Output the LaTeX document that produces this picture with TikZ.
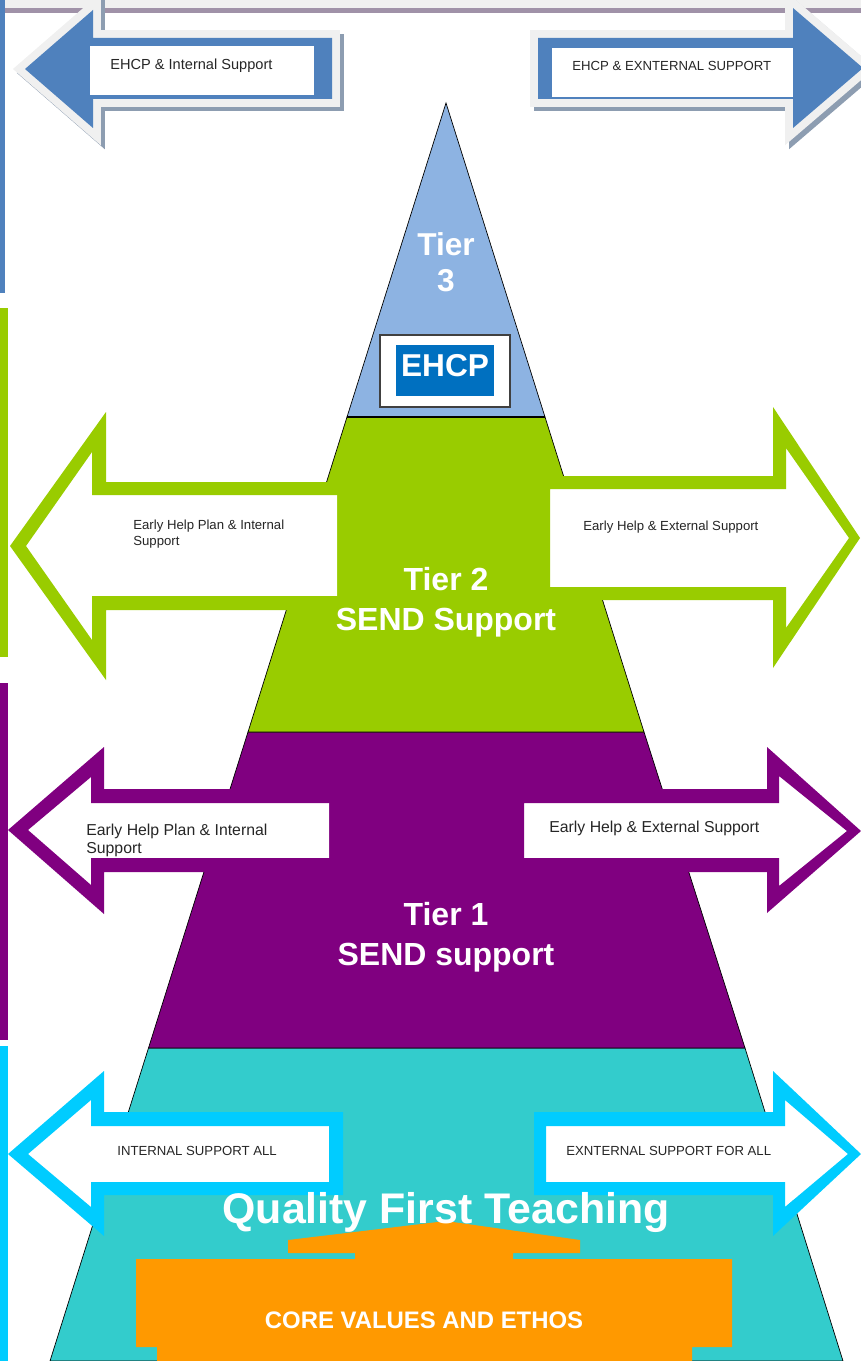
\documentclass[tikz,border=0pt]{standalone}
\usepackage{fontspec}
\setmainfont{Liberation Sans}
\usetikzlibrary{positioning}

\definecolor{tierthree}{HTML}{8DB3E2}
\definecolor{tiertwo}{HTML}{99CC00}
\definecolor{tierone}{HTML}{800080}
\definecolor{qft}{HTML}{33CCCC}
\definecolor{qftarrow}{HTML}{00CCFF}
\definecolor{ethos}{HTML}{FF9900}
\definecolor{ehcpblue}{HTML}{0070C0}
\definecolor{arrowblue}{HTML}{4F81BD}
\definecolor{arrowedge}{HTML}{F0F0F0}
\definecolor{arrowshade}{HTML}{8D9DB1}
\definecolor{topline}{HTML}{A092A8}

\tikzset{
  small label/.style={anchor=west,inner sep=0pt,align=left,text=black!85,
    font=\fontsize{7.5}{9}\selectfont},
  mid label/.style={small label,font=\fontsize{9}{10.2}\selectfont},
  tier label/.style={inner sep=0pt,align=center,text=white,
    font=\bfseries\fontsize{18.2}{22.7}\selectfont},
  ring/.style={even odd rule},
}

\begin{document}
\begin{tikzpicture}[x=0.02cm,y=-0.02cm]
\useasboundingbox (0,0) rectangle (861,1361);

% top rule and side bars
\fill[arrowedge] (0,0) rectangle (861,8);
\fill[topline] (0,8) rectangle (861,13);
\fill[arrowblue] (0,0) rectangle (5,293);
\fill[tiertwo] (0,308) rectangle (8,657);
\fill[tierone] (0,683) rectangle (8,1040);
\fill[qftarrow] (0,1046) rectangle (8,1361);

% pyramid
\filldraw[fill=qft,draw=black,thin] (148.5,1048) -- (745,1048) -- (843,1361) -- (50,1361) -- cycle;
\filldraw[fill=tierone,draw=black,thin] (248,732) -- (644,732) -- (745,1048) -- (148.5,1048) -- cycle;
\filldraw[fill=tiertwo,draw=black,thin] (347,417) -- (545,417) -- (644,732) -- (248,732) -- cycle;
\filldraw[fill=tierthree,draw=black,thin] (446,103) -- (545,417) -- (347,417) -- cycle;
\draw[black,line width=1.2pt] (347,417) -- (545,417);

% EHCP box
\filldraw[fill=white,draw=black!75,line width=0.8pt] (380,335) rectangle (510,407);
\fill[ehcpblue] (396,345) rectangle (494,396);
\node[tier label,font=\bfseries\fontsize{18}{20}\selectfont] (ehcp) at (445,366) {EHCP};

% tier captions
\node[tier label,font=\bfseries\fontsize{18}{20.4}\selectfont] (tier3) at (446,262) {Tier\\3};
\node[tier label] (tier2) at (446,602) {Tier 2\\SEND Support};
\node[tier label] (tier1) at (446,937) {Tier 1\\SEND support};

% core values block
\fill[ethos] (136,1259) -- (355,1259) -- (355,1253) -- (288,1253) -- (288,1240)
  -- (446,1221) -- (580,1240) -- (580,1253) -- (513,1253) -- (513,1259)
  -- (732,1259) -- (732,1347) -- (692,1347) -- (692,1361) -- (157,1361)
  -- (157,1347) -- (136,1347) -- cycle;
\node[tier label,font=\bfseries\fontsize{13.6}{16}\selectfont] (ethos) at (424,1320) {CORE VALUES AND ETHOS};

% blue arrows at the top
\fill[arrowshade,shift={(4,4)}] (25,69) -- (93,10) -- (93,38) -- (332,38) -- (332,99) -- (93,99) -- (93,128) -- cycle;
\draw[arrowshade,line width=9pt,shift={(4,4)}] (25,69) -- (93,10) -- (93,38) -- (332,38) -- (332,99) -- (93,99) -- (93,128) -- cycle;
\draw[arrowedge,line width=9pt] (25,69) -- (93,10) -- (93,38) -- (332,38) -- (332,99) -- (93,99) -- (93,128) -- cycle;
\fill[arrowblue] (25,69) -- (93,10) -- (93,38) -- (332,38) -- (332,99) -- (93,99) -- (93,128) -- cycle;
\fill[white] (90,46) rectangle (314,95);
\node[small label,font=\fontsize{8.3}{10}\selectfont] (ehcpint) at (110,66) {EHCP \& Internal Support};

\fill[arrowshade,shift={(4,4)}] (538,38) -- (793,38) -- (793,8) -- (863,68) -- (793,128) -- (793,99) -- (538,99) -- cycle;
\draw[arrowshade,line width=9pt,shift={(4,4)}] (538,38) -- (793,38) -- (793,8) -- (863,68) -- (793,128) -- (793,99) -- (538,99) -- cycle;
\draw[arrowedge,line width=9pt] (538,38) -- (793,38) -- (793,8) -- (863,68) -- (793,128) -- (793,99) -- (538,99) -- cycle;
\fill[arrowblue] (538,38) -- (793,38) -- (793,8) -- (863,68) -- (793,128) -- (793,99) -- (538,99) -- cycle;
\fill[white] (552,48) rectangle (793,97);
\node[small label] (ehcpext) at (572,66) {EHCP \& EXNTERNAL SUPPORT};

% green arrows
\fill[white] (26,546) -- (92,452) -- (92,495) -- (337,495) -- (337,596) -- (92,596) -- (92,640) -- cycle;
\node[small label] (ehint2) at (133,534) {Early Help Plan \& Internal\\Support};
\fill[tiertwo,ring] (10,546) -- (106,412) -- (106,482) -- (337,482) -- (337,610) -- (106,610) -- (106,680) -- cycle
  (26,546) -- (92,452) -- (92,495) -- (337,495) -- (337,596) -- (92,596) -- (92,640) -- cycle;

\fill[white] (550,489) -- (786,489) -- (786,448) -- (849,538) -- (786,628) -- (786,587) -- (550,587) -- cycle;
\node[small label] (ehext2) at (583,527) {Early Help \& External Support};
\fill[tiertwo,ring] (550,476) -- (773,476) -- (773,407) -- (860,538) -- (773,668) -- (773,600) -- (550,600) -- cycle
  (550,489) -- (786,489) -- (786,448) -- (849,538) -- (786,628) -- (786,587) -- (550,587) -- cycle;

% purple arrows
\fill[white] (28,830) -- (91,777) -- (91,803) -- (329,803) -- (329,858) -- (91,858) -- (91,885) -- cycle;
\node[mid label] (ehint1) at (86,840) {Early Help Plan \& Internal\\Support};
\fill[tierone,ring] (8,830) -- (104,747) -- (104,789) -- (329,789) -- (329,872) -- (104,872) -- (104,914) -- cycle
  (28,830) -- (91,777) -- (91,803) -- (329,803) -- (329,858) -- (91,858) -- (91,885) -- cycle;

\fill[white] (524,803) -- (779,803) -- (779,776) -- (847,831) -- (779,886) -- (779,858) -- (524,858) -- cycle;
\node[mid label] (ehext1) at (549,828) {Early Help \& External Support};
\fill[tierone,ring] (524,789) -- (767,789) -- (767,747) -- (861,831) -- (767,913) -- (767,872) -- (524,872) -- cycle
  (524,803) -- (779,803) -- (779,776) -- (847,831) -- (779,886) -- (779,858) -- (524,858) -- cycle;

% cyan arrows
\fill[white] (28,1154) -- (91,1100) -- (91,1126) -- (329,1126) -- (329,1182) -- (91,1182) -- (91,1207) -- cycle;
\node[small label] (intall) at (117,1151) {INTERNAL SUPPORT ALL};
\fill[qftarrow,ring] (8,1154) -- (104,1071) -- (104,1112) -- (343,1112) -- (343,1195) -- (104,1195) -- (104,1236) -- cycle
  (28,1154) -- (91,1100) -- (91,1126) -- (329,1126) -- (329,1182) -- (91,1182) -- (91,1207) -- cycle;

\fill[white] (546,1126) -- (785,1126) -- (785,1100) -- (848,1154) -- (785,1207) -- (785,1182) -- (546,1182) -- cycle;
\node[small label] (extall) at (566,1151) {EXNTERNAL SUPPORT FOR ALL};
\fill[qftarrow,ring] (534,1112) -- (773,1112) -- (773,1071) -- (861,1154) -- (773,1236) -- (773,1195) -- (534,1195) -- cycle
  (546,1126) -- (785,1126) -- (785,1100) -- (848,1154) -- (785,1207) -- (785,1182) -- (546,1182) -- cycle;

\node[tier label,font=\bfseries\fontsize{24.4}{28}\selectfont] (qfteach) at (446,1212) {Quality First Teaching};
\end{tikzpicture}
\end{document}
